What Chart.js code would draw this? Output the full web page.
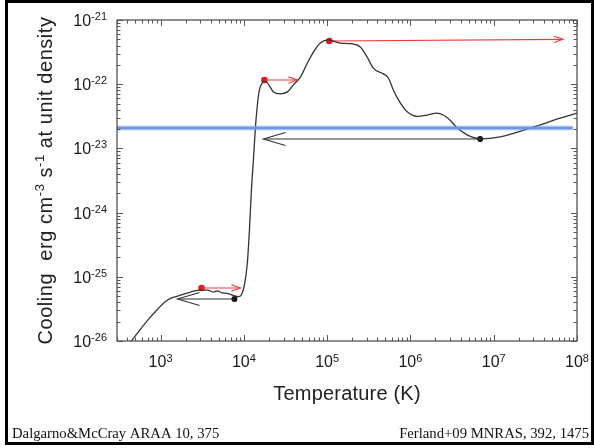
<!DOCTYPE html>
<html><head><meta charset="utf-8">
<script src="https://cdn.jsdelivr.net/npm/chart.js@4/dist/chart.umd.min.js"></script>
<style>html,body{margin:0;padding:0;background:#fff;overflow:hidden}</style>
</head><body>
<canvas id="c" width="594" height="448"></canvas>
<script>
// ---- data ----
const temperature = [437, 759, 1213, 1600, 2291, 3020, 3664, 4325, 4819, 5383, 6353, 7499, 8610, 9354,
  10160, 11040, 11670, 12330, 13030, 13770, 14550, 15380, 16710, 17660, 19190, 22650, 27480, 33340,
  39360, 47750, 57940, 68390, 82800, 103300, 143900, 189700, 250000, 303400, 358100, 472100, 542000,
  622300, 755100, 916200, 1.208e6, 1.589e6, 2.094e6, 2.472e6, 2.999e6, 3.639e6, 4.797e6, 6.871e6,
  1.194e7, 2.965e7, 6.252e7, 1e8];
const cooling = [9.7e-27, 2.37e-26, 4.36e-26, 5.01e-26, 5.79e-26, 6.22e-26, 6.22e-26, 5.79e-26, 6.03e-26,
  5.69e-26, 5.50e-26, 5.13e-26, 4.90e-26, 5.25e-26, 7.41e-26, 1.70e-25, 5.37e-25, 2.24e-24, 6.61e-24,
  2.09e-23, 4.79e-23, 8.13e-23, 1.05e-22, 1.12e-22, 1.05e-22, 7.59e-23, 7.08e-23, 7.59e-23, 9.77e-23,
  1.29e-22, 2.14e-22, 3.16e-22, 4.37e-22, 4.90e-22, 4.37e-22, 4.27e-22, 3.80e-22, 2.63e-22, 1.78e-22,
  1.45e-22, 1.26e-22, 8.13e-23, 5.13e-23, 3.72e-23, 3.16e-23, 3.31e-23, 3.55e-23, 3.31e-23, 2.75e-23,
  2.09e-23, 1.62e-23, 1.41e-23, 1.51e-23, 2.14e-23, 2.95e-23, 3.55e-23];
const heatingStartT = [3105, 17660, 106200];
const heatingStartL = [6.70e-26, 1.16e-22, 4.71e-22];
const heatingEndT = [9100, 43950, 6.79e7];
const heatingEndL = [6.70e-26, 1.16e-22, 5.0e-22];
const coolingStartT = [7710, 6.87e6];
const coolingStartL = [4.51e-26, 1.40e-23];
const coolingEndT = [1600, 17200];
const coolingEndL = [4.51e-26, 1.40e-23];
const heatingRateT = [300, 8.9e7];
const heatingRateL = [2.08e-23, 2.08e-23];
const xTickExponents = [3, 4, 5, 6, 7, 8];
const yTickExponents = [-26, -25, -24, -23, -22, -21];
const xTitle = 'Temperature (K)';
const yTitleParts = [['Cooling  erg cm', false], ['-3', true], [' s', false], ['-1', true], [' at unit density', false]];
const footerLeft = 'Dalgarno&McCray ARAA 10, 375';
const footerRight = 'Ferland+09 MNRAS, 392, 1475';

// ---- build datasets ----
const pts = (xs, ys) => xs.map((x, i) => ({x: x, y: ys[i]}));
const datasets = [];
datasets.push({data: pts(heatingRateT, heatingRateL), showLine: true, borderColor: 'rgba(120,160,230,0.22)', borderWidth: 6, pointRadius: 0});
datasets.push({data: pts(heatingRateT, heatingRateL), showLine: true, borderColor: '#6a96e2', borderWidth: 3, pointRadius: 0});
datasets.push({data: pts(temperature, cooling), showLine: true, borderColor: '#333333', borderWidth: 1.3, pointRadius: 0, cubicInterpolationMode: 'monotone'});
heatingStartT.forEach((t, i) => datasets.push({data: pts([t, heatingEndT[i]], [heatingStartL[i], heatingEndL[i]]), showLine: true, borderColor: '#f03c3c', borderWidth: 1.1, pointRadius: 0, arrowHead: {len: 9, half: 3.2}}));
coolingStartT.forEach((t, i) => datasets.push({data: pts([t, coolingEndT[i]], [coolingStartL[i], coolingEndL[i]]), showLine: true, borderColor: '#333333', borderWidth: 1.1, pointRadius: 0, arrowHead: {len: 22, half: 6.5}}));
datasets.push({data: pts(heatingStartT, heatingStartL), showLine: false, pointRadius: 3.3, pointBackgroundColor: '#e8161e', pointBorderWidth: 0});
datasets.push({data: pts(coolingStartT, coolingStartL), showLine: false, pointRadius: 3, pointBackgroundColor: '#111111', pointBorderWidth: 0});

const SANS = '"Liberation Sans", Arial, sans-serif';
const SERIF = '"Liberation Serif", "Times New Roman", serif';

const decor = {
  id: 'decor',
  afterDatasetsDraw(chart) {
    const ctx = chart.ctx;
    // arrowheads
    chart.data.datasets.forEach((ds, di) => {
      if (!ds.arrowHead) return;
      const m = chart.getDatasetMeta(di).data;
      const a = m[0], b = m[m.length - 1];
      const dx = b.x - a.x, dy = b.y - a.y, L = Math.hypot(dx, dy);
      const ux = dx / L, uy = dy / L;
      const {len, half} = ds.arrowHead;
      ctx.save();
      ctx.strokeStyle = ds.borderColor; ctx.lineWidth = ds.borderWidth;
      ctx.beginPath();
      ctx.moveTo(b.x - ux * len - uy * half, b.y - uy * len + ux * half);
      ctx.lineTo(b.x, b.y);
      ctx.lineTo(b.x - ux * len + uy * half, b.y - uy * len - ux * half);
      ctx.stroke();
      ctx.restore();
    });
  },
  afterDraw(chart) {
    const ctx = chart.ctx, ca = chart.chartArea;
    const xs = chart.scales.x, ys = chart.scales.y;
    ctx.save();
    // plot frame
    ctx.strokeStyle = '#444'; ctx.lineWidth = 1.2;
    ctx.strokeRect(ca.left, ca.top, ca.right - ca.left, ca.bottom - ca.top);
    // ticks
    ctx.beginPath();
    for (let d = 2; d <= 8; d++) for (let k = 1; k <= 9; k++) {
      const v = k * Math.pow(10, d);
      if (v < xs.min * 0.999 || v > xs.max * 1.001) continue;
      const px = Math.round(xs.getPixelForValue(v)) + 0.5, l = k === 1 ? 6 : 3.5;
      ctx.moveTo(px, ca.bottom); ctx.lineTo(px, ca.bottom - l);
      ctx.moveTo(px, ca.top); ctx.lineTo(px, ca.top + l);
    }
    for (let d = -26; d <= -21; d++) for (let k = 1; k <= 9; k++) {
      const v = k * Math.pow(10, d);
      if (v < ys.min * 0.999 || v > ys.max * 1.001) continue;
      const py = Math.round(ys.getPixelForValue(v)) + 0.5, l = k === 1 ? 6 : 3.5;
      ctx.moveTo(ca.left, py); ctx.lineTo(ca.left + l, py);
      ctx.moveTo(ca.right, py); ctx.lineTo(ca.right - l, py);
    }
    ctx.lineWidth = 1; ctx.strokeStyle = '#555'; ctx.stroke();

    // tick labels
    ctx.fillStyle = '#1a1a1a';
    const mainF = '16px ' + SANS, supF = '11px ' + SANS;
    xTickExponents.forEach(e => {
      const px = xs.getPixelForValue(Math.pow(10, e));
      ctx.font = mainF; const w1 = ctx.measureText('10').width;
      ctx.font = supF; const w2 = ctx.measureText(String(e)).width;
      const x0 = px - (w1 + w2) / 2;
      ctx.textAlign = 'left'; ctx.textBaseline = 'alphabetic';
      ctx.font = mainF; ctx.fillText('10', x0, 367);
      ctx.font = supF; ctx.fillText(String(e), x0 + w1, 362);
    });
    yTickExponents.forEach(e => {
      const py = ys.getPixelForValue(Math.pow(10, e));
      ctx.font = supF; const w2 = ctx.measureText(String(e)).width;
      ctx.font = mainF; const w1 = ctx.measureText('10').width;
      const xr = 107;
      ctx.textAlign = 'left'; ctx.textBaseline = 'alphabetic';
      ctx.font = mainF; ctx.fillText('10', xr - w2 - w1, py + 6);
      ctx.font = supF; ctx.fillText(String(e), xr - w2, py);
    });

    // axis titles
    ctx.fillStyle = '#222';
    ctx.font = '20px ' + SANS; ctx.textAlign = 'center';
    ctx.letterSpacing = '0.2px';
    ctx.fillText(xTitle, (ca.left + ca.right) / 2, 400);
    // y title with superscripts
    ctx.letterSpacing = '0.55px';
    const tf = '20px ' + SANS, sf = '13px ' + SANS;
    let total = 0;
    yTitleParts.forEach(([t, sup]) => { ctx.font = sup ? sf : tf; total += ctx.measureText(t).width; });
    ctx.save();
    ctx.translate(52, (ca.top + ca.bottom) / 2);
    ctx.rotate(-Math.PI / 2);
    ctx.textAlign = 'left';
    let x = -total / 2;
    yTitleParts.forEach(([t, sup]) => {
      ctx.font = sup ? sf : tf;
      ctx.fillText(t, x, sup ? -8 : 0);
      x += ctx.measureText(t).width;
    });
    ctx.restore();
    ctx.letterSpacing = '0px';

    // footers
    ctx.fillStyle = '#111';
    ctx.font = '14.7px ' + SERIF;
    ctx.textAlign = 'left'; ctx.fillText(footerLeft, 12, 438);
    ctx.textAlign = 'right'; ctx.fillText(footerRight, 589, 438);

    // outer border
    ctx.strokeStyle = '#000'; ctx.lineWidth = 3;
    ctx.strokeRect(6.5, 1.5, 586, 442);
    ctx.restore();
  }
};

new Chart(document.getElementById('c'), {
  type: 'scatter',
  data: {datasets: datasets},
  options: {
    responsive: false, devicePixelRatio: 1, animation: false,
    layout: {padding: {left: 117, right: 17, top: 20, bottom: 107}},
    plugins: {legend: {display: false}, tooltip: {enabled: false}},
    scales: {
      x: {type: 'logarithmic', min: 300, max: 1e8, display: false},
      y: {type: 'logarithmic', min: 1e-26, max: 1e-21, display: false}
    }
  },
  plugins: [decor]
});
</script>
</body></html>
